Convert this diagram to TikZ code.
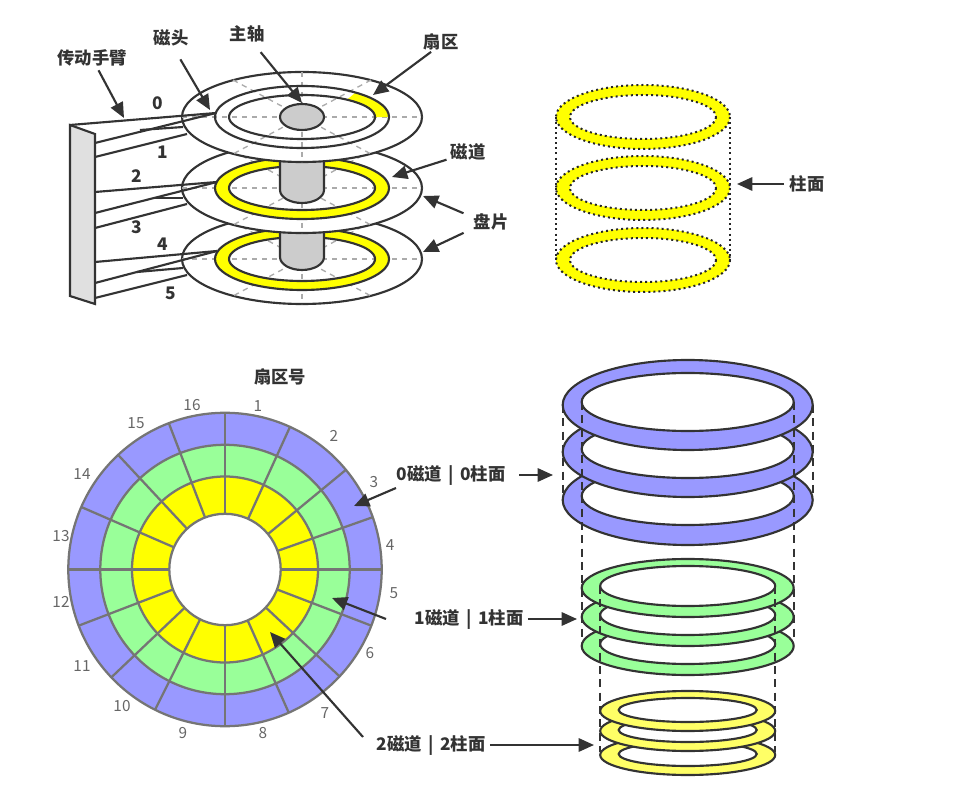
\documentclass[tikz,border=0pt]{standalone}
\usepackage{fontspec}
\newfontfamily\cjk{Noto Sans CJK SC}
\usetikzlibrary{arrows.meta}
\definecolor{txtgray}{HTML}{333333}
\definecolor{numgray}{HTML}{666666}
\definecolor{spokegray}{HTML}{757575}
\definecolor{trackblue}{HTML}{9999FF}
\definecolor{trackgreen}{HTML}{99FF99}
\definecolor{trackyellow}{HTML}{FFFF00}
\definecolor{tracklemon}{HTML}{FFFF66}
\tikzset{
  lbl/.style={font=\cjk\bfseries\fontsize{13}{15}\selectfont, text=txtgray, inner sep=1pt},
  num/.style={font=\cjk\fontsize{11.5}{13}\selectfont, text=numgray, inner sep=0pt},
  arr/.style={draw=txtgray, line width=1.6pt, -{Triangle[length=11.5pt,width=10pt]}, shorten <=2pt},
  edge/.style={draw=txtgray, line width=1.6pt},
  radial/.style={draw=black!33, line width=1pt, dash pattern=on 4pt off 3.5pt},
  ringline/.style={draw=txtgray, line width=1.6pt},
  spoke/.style={draw=spokegray, line width=1.7pt},
  dashline/.style={draw=txtgray, line width=1.8pt, dash pattern=on 6pt off 4pt},
  dotline/.style={draw=black!85, line width=1.5pt, dash pattern=on 1.5pt off 2.3pt}
}
\begin{document}
\begin{tikzpicture}[x=0.75pt,y=-0.75pt]
\useasboundingbox (0,0) rectangle (967,787);

% platters, lowest first
\foreach \cy/\by in {259/257,188/190} {
  \draw [edge, fill=white] (302,\cy) ellipse [x radius=120, y radius=45];
  \draw [radial] (182,\cy) -- (422,\cy);
  \draw [radial] (302,\cy-45) -- (302,\cy+45);
  \draw [radial] (233,\cy-37) -- (371,\cy+37);
  \draw [radial] (371,\cy-37) -- (233,\cy+37);
  \draw [edge, fill=trackyellow, even odd rule] (302,\cy) ellipse [x radius=87, y radius=31] (302,\cy) ellipse [x radius=73, y radius=22];
  \draw [edge, fill=black!20] (280,\cy-45) -- (280,\by) arc [start angle=180, end angle=0, x radius=22, y radius=13] -- (324,\cy-45);
}
\draw [edge, fill=white] (302,117) ellipse [x radius=120, y radius=45];
\draw [radial] (182,117) -- (422,117);
\draw [radial] (302,72) -- (302,162);
\draw [radial] (233,80) -- (371,154);
\draw [radial] (371,80) -- (233,154);
\fill [trackyellow] (389,117) arc [start angle=0, end angle=-52, x radius=87, y radius=31] -- (347,99.7) arc [start angle=-52, end angle=0, x radius=73, y radius=22] -- cycle;
\draw [edge] (302,117) ellipse [x radius=87, y radius=31];
\draw [edge] (302,117) ellipse [x radius=73, y radius=22];
\draw [edge, fill=black!20] (302,117) ellipse [x radius=22, y radius=13];

% arm
\draw [edge, fill=black!12] (70,125) -- (95,134) -- (95,304) -- (70,296) -- cycle;
\draw [edge] (70,125) -- (216,113);
\draw [edge] (95,143) -- (216,113);
\draw [edge] (140,130) -- (183,127);
\draw [edge] (95,157) -- (187,134);
\draw [edge] (95,192) -- (217,182);
\draw [edge] (95,213) -- (217,182);
\draw [edge] (153,198) -- (183,198);
\draw [edge] (95,228) -- (187,204);
\draw [edge] (95,262) -- (217,251);
\draw [edge] (95,283) -- (217,251);
\draw [edge] (137,272) -- (183,268);
\draw [edge] (95,298) -- (187,275);

\node (head0) [lbl] at (158,103) {0};
\node (head1) [lbl] at (163,152) {1};
\node (head2) [lbl] at (137,176) {2};
\node (head3) [lbl] at (137,227) {3};
\node (head4) [lbl] at (163,244) {4};
\node (head5) [lbl] at (171,293) {5};

\node (armlbl) [lbl] at (92,58) {传动手臂};
\node (headlbl) [lbl] at (171,38) {磁头};
\node (shaftlbl) [lbl] at (247,34) {主轴};
\node (sectorlbl) [lbl] at (441,42) {扇区};
\node (tracklbl) [lbl] at (468,152) {磁道};
\node (platterlbl) [lbl] at (491,222) {盘片};

\coordinate (armpt) at (124,118);
\coordinate (headpt) at (210,110);
\coordinate (shaftpt) at (302,103);
\coordinate (sectorpt) at (373,95);
\coordinate (trackpt) at (392,177);
\coordinate (platterpta) at (423,196);
\coordinate (platterptb) at (423,252);

\draw [arr] (armlbl.-62) -- (armpt);
\draw [arr, shorten <=10pt] (headlbl.-75) -- (headpt);
\draw [arr, shorten <=8pt] (shaftlbl.-55) -- (shaftpt);
\draw [arr, shorten <=0pt] (sectorlbl.-135) -- (sectorpt);
\draw [arr] (tracklbl.-160) -- (trackpt);
\draw [arr, shorten <=7pt] (platterlbl.165) -- (platterpta);
\draw [arr, shorten <=7pt] (platterlbl.-160) -- (platterptb);

% cylinder
\foreach \cy in {117,188,260} {
  \fill [trackyellow, even odd rule] (643,\cy) ellipse [x radius=87, y radius=32] (643,\cy) ellipse [x radius=73, y radius=22];
  \draw [dotline] (643,\cy) ellipse [x radius=87, y radius=32];
  \draw [dotline] (643,\cy) ellipse [x radius=73, y radius=22];
}
\draw [dotline] (556,117) -- (556,260);
\draw [dotline] (730,117) -- (730,260);
\node (cyllbl) [lbl] at (807,184) {柱面};
\coordinate (cylpt) at (737,184);
\draw [arr, shorten <=3pt] (cyllbl) -- (cylpt);

% sector wheel
\node (wheellbl) [lbl] at (280,377) {扇区号};
\fill [trackblue] (225,569.5) circle [radius=156.7];
\fill [trackgreen] (225,569.5) circle [radius=124.7];
\fill [trackyellow] (225,569.5) circle [radius=93];
\foreach \a in {0,24.5,50.5,70.5,90,111,133,156,180,206.5,226.5,249,270,293.5,317,339}
  \draw [spoke] (225,569.5) ++({\a-90}:55.7) -- ++({\a-90}:101);
\fill [white] (225,569.5) circle [radius=55.7];
\foreach \r in {55.7,93,124.7,156.7}
  \draw [spoke] (225,569.5) circle [radius=\r];

\foreach \n/\x/\y in {1/258/406,2/334/436,3/374/482,4/390/545,5/394/593,6/370/653,7/325/713,8/263/733,9/183/733,10/122/706,11/82/666,12/61/602,13/61/536,14/82/474,15/136/423,16/192/405}
  \node (sector\n) [num] at (\x,\y) {\n};

% stacked tracks
\foreach \oy/\iy in {500/496,452/449,405/402} {
  \draw [ringline, fill=trackblue] (687.7,\oy) ellipse [x radius=125, y radius=45];
  \draw [ringline, fill=white] (687.7,\iy) ellipse [x radius=106, y radius=29];
}
\foreach \oy/\iy in {646/644,617/615,588/586} {
  \draw [ringline, fill=trackgreen] (687.7,\oy) ellipse [x radius=106, y radius=29];
  \draw [ringline, fill=white] (687.7,\iy) ellipse [x radius=87.5, y radius=20];
}
\foreach \oy/\iy in {755/754,731/730,711/710} {
  \draw [ringline, fill=tracklemon] (687.7,\oy) ellipse [x radius=87.5, y radius=20];
  \draw [ringline, fill=white] (687.7,\iy) ellipse [x radius=69, y radius=12];
}
\draw [dashline] (562.7,405) -- (562.7,498);
\draw [dashline] (812.7,405) -- (812.7,498);
\draw [dashline] (581.7,402) -- (581.7,640);
\draw [dashline] (793.7,402) -- (793.7,640);
\draw [dashline] (600.2,586) -- (600.2,752);
\draw [dashline] (775.2,586) -- (775.2,752);

\node (ringlbla) [lbl] at (451,475) {0磁道\hspace{2pt} | \hspace{2pt}0柱面};
\node (ringlblb) [lbl] at (469,619) {1磁道\hspace{2pt} | \hspace{2pt}1柱面};
\node (ringlblc) [lbl] at (431,745) {2磁道\hspace{2pt} | \hspace{2pt}2柱面};
\coordinate (ringpta) at (553,475);
\coordinate (ringptb) at (577,619);
\coordinate (ringptc) at (594,745);
\coordinate (wheelsta) at (396,488);
\coordinate (wheelstb) at (386,619);
\coordinate (wheelstc) at (363,737);
\coordinate (wheelpta) at (354,506);
\coordinate (wheelptb) at (332,598);
\coordinate (wheelptc) at (270,632);

\draw [arr, shorten <=9pt] (ringlbla) -- (ringpta);
\draw [arr] (ringlblb) -- (ringptb);
\draw [arr] (ringlblc) -- (ringptc);
\draw [arr, shorten <=0pt] (wheelsta) -- (wheelpta);
\draw [arr, shorten <=0pt] (wheelstb) -- (wheelptb);
\draw [arr, shorten <=0pt] (wheelstc) -- (wheelptc);
\end{tikzpicture}
\end{document}
